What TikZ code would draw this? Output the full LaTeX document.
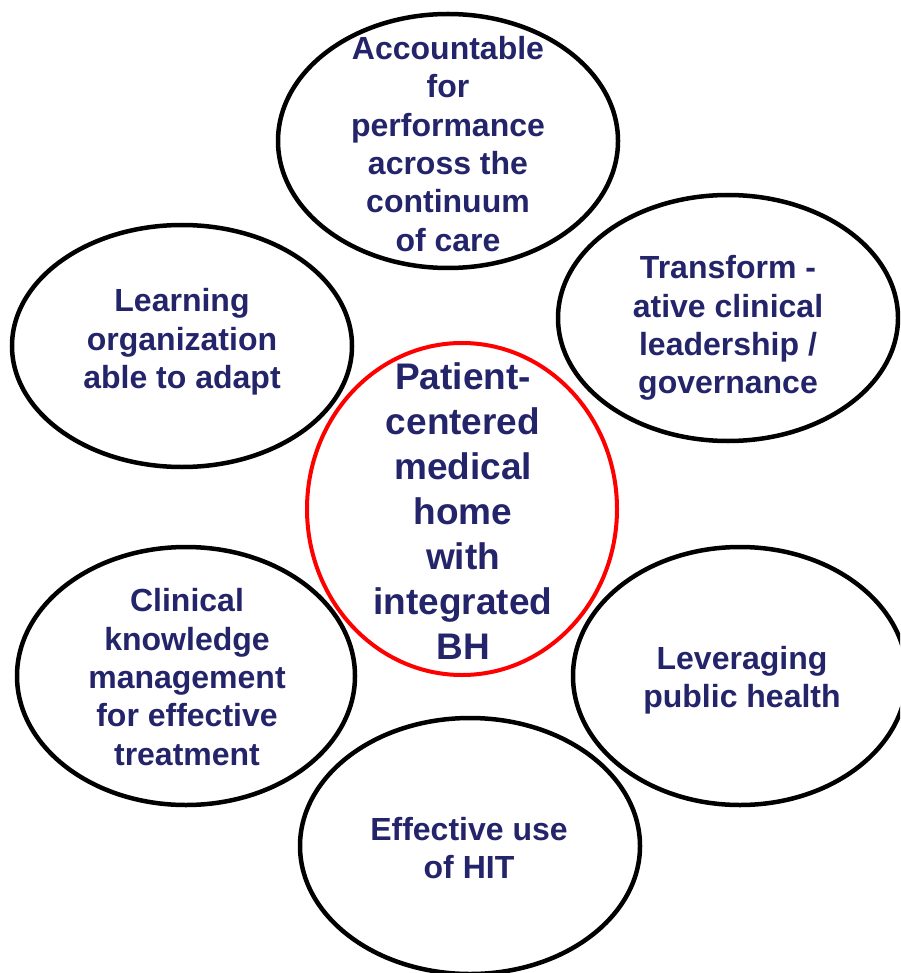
\documentclass[tikz,border=0pt]{standalone}
\usepackage{fontspec}
\setmainfont{Liberation Sans}
\usetikzlibrary{shapes.geometric}
\definecolor{navy}{RGB}{36,36,106}
\definecolor{ringred}{RGB}{255,0,0}
\tikzset{
  bubble/.style={ellipse, draw=black, line width=4.5pt, inner sep=0pt, outer sep=0pt},
  hub/.style={ellipse, draw=ringred, line width=4pt, inner sep=0pt, outer sep=0pt},
  label/.style={text=navy, align=center, inner sep=0pt, font=\bfseries\fontsize{32}{38.3}\selectfont},
  hublabel/.style={text=navy, align=center, inner sep=0pt, font=\bfseries\fontsize{37}{45}\selectfont}
}
\begin{document}
\begin{tikzpicture}[x=1pt,y=-1pt]
\clip (0,0) rectangle (900,973);
\fill[white] (0,0) rectangle (900,973);
\node[bubble, minimum width=340pt, minimum height=254pt] (etop) at (448,141) {};
\node[bubble, minimum width=340pt, minimum height=242pt] (elu) at (182,346) {};
\node[bubble, minimum width=340pt, minimum height=246pt] (eru) at (728,318) {};
\node[hub, minimum width=310pt, minimum height=332pt] (ec) at (462,509) {};
\node[bubble, minimum width=338pt, minimum height=258pt] (ell) at (186,676) {};
\node[bubble, minimum width=334pt, minimum height=258pt] (erl) at (740,676) {};
\node[bubble, minimum width=340pt, minimum height=256pt] (eb) at (470,846) {};

\node[label] (ttop) at (448,144) {Accountable\\for\\performance\\across the\\continuum\\of care};
\node[label] (tlu) at (182,342) {Learning\\organization\\able to adapt};
\node[label] (tru) at (728,328) {Transform -\\ative clinical\\leadership /\\governance};
\node[hublabel] (tc) at (463,511) {Patient-\\centered\\medical\\home\\with\\integrated\\BH};
\node[label] (tll) at (187,677) {Clinical\\knowledge\\management\\for effective\\treatment};
\node[label] (trl) at (742,680) {Leveraging\\public health};
\node[label] (tb) at (469,848) {Effective use\\of HIT};
\end{tikzpicture}
\end{document}
